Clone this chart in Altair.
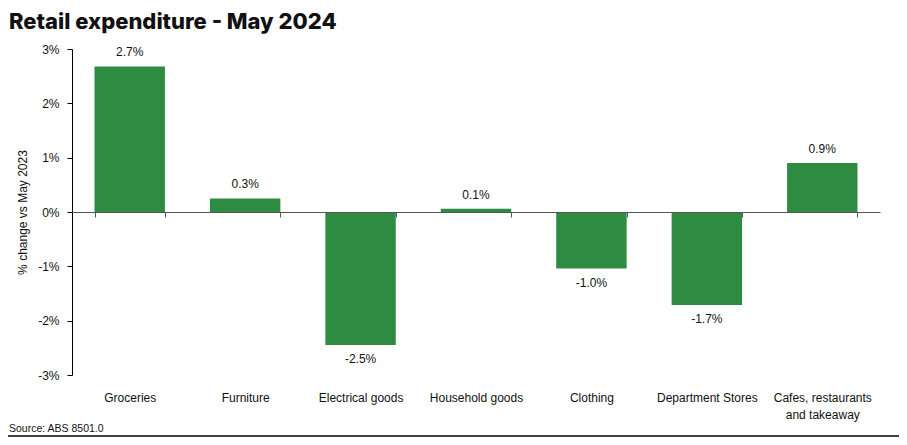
import altair as alt
import pandas as pd

categories = ["Groceries", "Furniture", "Electrical goods", "Household goods",
              "Clothing", "Department Stores", "Cafes, restaurants\nand takeaway"]
values = [2.68, 0.25, -2.45, 0.06, -1.04, -1.71, 0.90]
labels = ["2.7%", "0.3%", "-2.5%", "0.1%", "-1.0%", "-1.7%", "0.9%"]
y_ticks = [-3, -2, -1, 0, 1, 2, 3]

df = pd.DataFrame({"category": categories, "value": values, "label": labels})

W, H = 808, 326
FONT = "Liberation Sans"
GREEN = "#2e8b42"

x_enc = alt.X("category:N", sort=categories, title=None,
              scale=alt.Scale(paddingInner=0.39, paddingOuter=0.195),
              axis=alt.Axis(offset=-H / 2, domainColor="#555555", tickColor="#555555",
                            tickSize=5, tickBand="extent", labelAngle=0,
                            labelPadding=H / 2 + 12,
                            labelFont=FONT, labelFontSize=12, labelColor="#111111",
                            labelExpr="split(datum.label, '\\n')", labelLineHeight=17,
                            labelLimit=200, zindex=1))
y_enc = alt.Y("value:Q", title="% change vs May 2023",
              scale=alt.Scale(domain=[-3, 3], nice=False),
              axis=alt.Axis(values=y_ticks, labelExpr="datum.value + '%'", grid=False,
                            domainColor="#000000", tickColor="#000000", tickSize=5,
                            labelPadding=8, labelFont=FONT, labelFontSize=12,
                            labelColor="#111111", titleFont=FONT, titleFontSize=12,
                            titleFontWeight="normal", titleColor="#111111",
                            titlePadding=8))

base = alt.Chart(df)
bars = base.mark_bar(color=GREEN).encode(x=x_enc, y=y_enc)
pos_text = base.transform_filter("datum.value >= 0").mark_text(
    baseline="alphabetic", dy=-10, font=FONT, fontSize=12, color="#111111"
).encode(x=alt.X("category:N", sort=categories), y="value:Q", text="label:N")
neg_text = base.transform_filter("datum.value < 0").mark_text(
    baseline="top", dy=9, font=FONT, fontSize=12, color="#111111"
).encode(x=alt.X("category:N", sort=categories), y="value:Q", text="label:N")

source = alt.Chart(pd.DataFrame({"t": ["Source: ABS 8501.0"]})).mark_text(
    align="left", baseline="middle", font=FONT, fontSize=10.5, color="#111111"
).encode(x=alt.value(-63), y=alt.value(380), text="t:N")

bottom_line = alt.Chart(pd.DataFrame({"a": [0]})).mark_rule(
    color="#000000", strokeWidth=1.5
).encode(x=alt.value(-64), x2=alt.value(827), y=alt.value(387))

chart = alt.layer(bars, pos_text, neg_text, source, bottom_line).properties(
    width=W, height=H,
    title=alt.TitleParams("Retail expenditure - May 2024", anchor="start", frame="group",
                          font="Inter", fontSize=22, fontWeight=800, color="#111111",
                          dx=-63, offset=9),
    autosize=alt.AutoSizeParams(type="none"),
    padding={"left": 64, "top": 41, "right": 19, "bottom": 62},
    background="white",
).configure_view(strokeWidth=0, stroke=None)

chart.save("out.html", embed_options={"renderer": "svg", "actions": False})
